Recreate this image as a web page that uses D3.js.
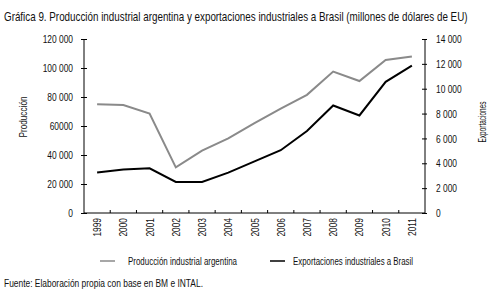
<!DOCTYPE html>
<html>
<head>
<meta charset="utf-8">
<script src="https://cdn.jsdelivr.net/npm/d3@7"></script>
<style>
  body { margin: 0; background: #fff; }
  text { font-family: "Liberation Sans", Arial, sans-serif; fill: #111; }
</style>
</head>
<body>
<svg id="chart" width="499" height="299"></svg>
<script>
const years = ['1999','2000','2001','2002','2003','2004','2005','2006','2007','2008','2009','2010','2011']
const produccion = [75000, 74500, 68500, 31500, 43000, 51500, 62000, 72000, 81500, 97500, 91000, 105500, 108000]
const exportaciones = [3250, 3500, 3600, 2500, 2500, 3250, 4150, 5050, 6600, 8650, 7850, 10550, 11850]
const leftTicks = [0, 20000, 40000, 60000, 80000, 100000, 120000]
const leftTickLabels = ['0', '20 000', '40 000', '60000', '80 000', '100 000', '120 000']
const rightTicks = [0, 2000, 4000, 6000, 8000, 10000, 12000, 14000]
const rightTickLabels = ['0', '2 000', '4 000', '6 000', '8 000', '10 000', '12 000', '14 000']

const svg = d3.select('#chart')
const plotLeft = 84, plotRight = 425, plotTop = 39, plotBottom = 213

// squeeze text horizontally to mimic the condensed face of the original
function condense(sel, k) {
    sel.each(function() {
        const w = this.getComputedTextLength()
        d3.select(this).attr('textLength', w * k).attr('lengthAdjust', 'spacingAndGlyphs')
    })
}

const x = d3.scaleBand().domain(years).range([plotLeft, plotRight])
const yLeft = d3.scaleLinear().domain([0, 120000]).range([plotBottom, plotTop])
const yRight = d3.scaleLinear().domain([0, 14000]).range([plotBottom, plotTop])

// Title (scaled group so it fits the width like the narrow original face)
const titleG = svg.append('g')
const title = titleG.append('text')
    .attr('x', 0).attr('y', 0)
    .attr('font-size', 12.5)
    .text('Gráfica 9. Producción industrial argentina y exportaciones industriales a Brasil (millones de dólares de EU)')
const tw = title.node().getComputedTextLength()
titleG.attr('transform', `translate(4,21) scale(${464 / tw},1)`)

// Left axis
const axL = svg.append('g').attr('transform', `translate(${plotLeft},0)`)
    .call(d3.axisLeft(yLeft).tickValues(leftTicks).tickFormat((d, i) => leftTickLabels[i]).tickSize(3).tickPadding(8))
axL.selectAll('.tick line').attr('x2', 3).attr('x1', -3)
axL.select('.domain').attr('d', `M0,${plotTop}V${plotBottom}`)

// Right axis
const axR = svg.append('g').attr('transform', `translate(${plotRight},0)`)
    .call(d3.axisRight(yRight).tickValues(rightTicks).tickFormat((d, i) => rightTickLabels[i]).tickSize(3).tickPadding(8))
axR.selectAll('.tick line').attr('x1', -3).attr('x2', 2)
axR.select('.domain').attr('d', `M0,${plotTop}V${plotBottom}`)

svg.selectAll('.domain, .tick line').attr('stroke', '#000')
svg.selectAll('.tick text').attr('font-size', 11.5).attr('fill', '#111')
    .attr('font-family', '"Liberation Sans", Arial, sans-serif')
condense(svg.selectAll('.tick text'), 0.73)

// Bottom axis: ticks on band edges
const axB = svg.append('g').attr('transform', `translate(0,${plotBottom})`)
axB.append('line').attr('x1', plotLeft).attr('x2', plotRight).attr('stroke', '#000')
axB.selectAll('.edge').data(years.slice(1)).enter().append('line')
    .attr('x1', d => x(d)).attr('x2', d => x(d))
    .attr('y1', 0).attr('y2', -3).attr('stroke', '#000')
const yearLabels = axB.selectAll('.lbl').data(years).enter().append('text')
    .attr('transform', d => `translate(${x(d) + x.bandwidth() / 2 + 4},5) rotate(-90)`)
    .attr('text-anchor', 'end')
    .attr('font-size', 11)
    .text(d => d)
condense(yearLabels, 0.76)

// Axis titles
svg.append('text')
    .attr('transform', 'translate(27,117) rotate(-90)')
    .attr('text-anchor', 'middle').attr('font-size', 11.5)
    .attr('textLength', 41).attr('lengthAdjust', 'spacingAndGlyphs')
    .text('Producción')
svg.append('text')
    .attr('transform', 'translate(486,122) rotate(-90)')
    .attr('text-anchor', 'middle').attr('font-size', 11)
    .attr('textLength', 41).attr('lengthAdjust', 'spacingAndGlyphs')
    .text('Exportaciones')

// Lines
const cx = d => x(d) + x.bandwidth() / 2
svg.append('path')
    .datum(produccion)
    .attr('fill', 'none').attr('stroke', '#8a8a8a').attr('stroke-width', 2)
    .attr('d', d3.line().x((d, i) => cx(years[i])).y(d => yLeft(d)))
svg.append('path')
    .datum(exportaciones)
    .attr('fill', 'none').attr('stroke', '#000').attr('stroke-width', 2)
    .attr('d', d3.line().x((d, i) => cx(years[i])).y(d => yRight(d)))

// Legend
const legend = [
    {name: 'Producción industrial argentina', color: '#8a8a8a', x: 100, dx: 28, w: 109},
    {name: 'Exportaciones industriales a Brasil', color: '#000', x: 270, dx: 23, w: 120}
]
const lg = svg.selectAll('.legend').data(legend).enter().append('g')
    .attr('transform', d => `translate(${d.x},261)`)
lg.append('line').attr('x1', 0).attr('x2', 15).attr('stroke', d => d.color).attr('stroke-width', 1.5)
lg.append('text').attr('x', d => d.dx).attr('y', 4).attr('font-size', 11)
    .attr('textLength', d => d.w).attr('lengthAdjust', 'spacingAndGlyphs')
    .text(d => d.name)

// Footer
svg.append('text')
    .attr('x', 4).attr('y', 287).attr('font-size', 11)
    .attr('textLength', 199).attr('lengthAdjust', 'spacingAndGlyphs')
    .text('Fuente: Elaboración propia con base en BM e INTAL.')
</script>
</body>
</html>
